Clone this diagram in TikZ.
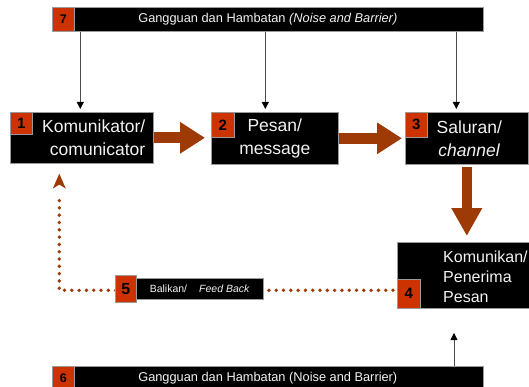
\documentclass[tikz,border=0pt]{standalone}
\usepackage{fontspec}
\setmainfont{Liberation Sans}
\usetikzlibrary{arrows.meta,calc}
\definecolor{nred}{HTML}{CC3300}
\definecolor{arr}{HTML}{9E3A06}
\definecolor{edge}{HTML}{9A9A9A}
\definecolor{txt}{HTML}{F2F2F2}
\begin{document}
\begin{tikzpicture}[x=1pt,y=-1pt,
  blackbox/.style={draw=edge, line width=0.6pt, fill=black, text=txt, inner sep=0pt, anchor=north west},
  redsq/.style={draw=edge, line width=0.6pt, fill=nred, text=black, inner sep=0pt, anchor=north west, font=\bfseries\fontsize{15}{15}\selectfont},
  bigtxt/.style={font=\fontsize{17.5}{23}\selectfont},
  bartxt/.style={font=\fontsize{12.8}{14}\selectfont},
  thickarr/.style={draw=arr, line width=11pt, -{Triangle[length=25pt,width=30pt]}},
  thinarr/.style={draw=gray!60!black, line width=0.8pt, -{Triangle[length=7pt,width=7pt,color=black]}},
  dotline/.style={draw=arr, line width=3.8pt, line cap=round, dash pattern=on 0pt off 7.3pt},
  fbtip/.style={fill=arr, draw=none}
]
\useasboundingbox (0,0) rectangle (529,387);

% noise bars
\node[blackbox, minimum width=431pt, minimum height=24pt, bartxt] (bar7) at (52,7) {Gangguan dan Hambatan \textit{(Noise and Barrier)}};
\node[redsq, minimum width=22pt, minimum height=24pt, font=\bfseries\fontsize{12.5}{14}\selectfont] (r7) at (52,7) {7};
\node[blackbox, minimum width=431pt, minimum height=24pt, bartxt] (bar6) at (52,366) {Gangguan dan Hambatan (Noise and Barrier)};
\node[redsq, minimum width=22pt, minimum height=24pt, font=\bfseries\fontsize{12.5}{14}\selectfont] (r6) at (52,366) {6};

% main boxes
\node[blackbox, minimum width=143pt, minimum height=51pt, text width=127pt, align=right, bigtxt] (b1) at (10,112) {Komunikator/\\comunicator};
\node[redsq, minimum width=22pt, minimum height=22pt] (r1) at (10,112) {1};
\node[blackbox, minimum width=127pt, minimum height=52pt, text width=127pt, align=center, bigtxt] (b2) at (211,112) {Pesan/\\message};
\node[redsq, minimum width=23pt, minimum height=25pt] (r2) at (211,112) {2};
\node[blackbox, minimum width=123pt, minimum height=52pt, text width=117pt, align=center, bigtxt] (b3) at (405,112) {\hspace*{5pt}Saluran/\\\hspace*{5pt}\textit{channel}};
\node[redsq, minimum width=22pt, minimum height=25pt] (r3) at (405,112) {3};
\node[blackbox, minimum width=132pt, minimum height=66pt] (b4) at (397,242) {};
\node[anchor=west, inner sep=0pt, text=txt, align=left, font=\fontsize{16}{20}\selectfont] (t4) at ($(b4.west)+(46,1.5)$) {Komunikan/\\Penerima\\Pesan};
\node[redsq, minimum width=23pt, minimum height=29pt] (r4) at (397,279) {4};

% thin noise arrows
\coordinate (a1) at ($(b1.north)+(-1.5,0)$);
\coordinate (a2) at ($(b2.north)+(-9.5,0)$);
\coordinate (a3) at ($(b3.north)+(-10.5,0)$);
\coordinate (a6) at (454,333);
\draw[thinarr, shorten >=3pt] (a1 |- bar7.south) -- (a1);
\draw[thinarr, shorten >=3pt] (a2 |- bar7.south) -- (a2);
\draw[thinarr, shorten >=3pt] (a3 |- bar7.south) -- (a3);
\draw[thinarr] (a6 |- bar6.north) -- (a6);

% thick flow arrows
\draw[thickarr, shorten >=6pt] (b1.east) -- (b1.east -| b2.west);
\draw[thickarr, shorten >=3pt] (b2.east) -- (b2.east -| b3.west);
\draw[thickarr, line width=10pt, -{Triangle[length=28pt,width=29pt]}, shorten <=2pt, shorten >=6pt] (b3.south) -- (b3.south |- b4.north);

% feedback
\coordinate (f0) at ($(b4.west)+(-4,15)$);
\coordinate (f1) at ($(b1.south)+(-22.5,0)$);
\coordinate (ftip) at ($(f1)+(0,10)$);
\draw[dotline] (f0) -| ($(ftip)+(0,22)$);
\fill[fbtip] (ftip) -- ++(6.5,15) -- ++(-6.5,-4) -- ++(-6.5,4) -- cycle;
\node[blackbox, minimum width=127pt, minimum height=21pt, font=\fontsize{10.5}{12}\selectfont] (b5) at (136,278) {Balikan/\hspace{12pt}\textit{Feed Back}};
\node[redsq, minimum width=21pt, minimum height=27pt, font=\bfseries\fontsize{16}{16}\selectfont] (r5) at (115,275) {5};
\end{tikzpicture}
\end{document}
